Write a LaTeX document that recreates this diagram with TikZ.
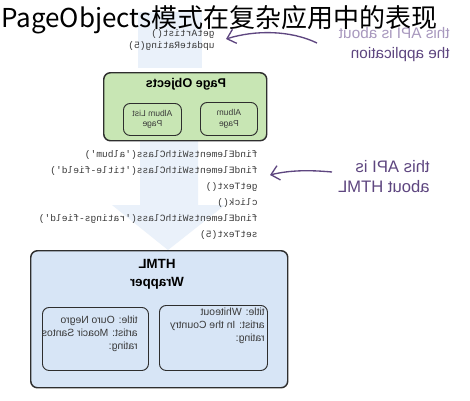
\documentclass[tikz,border=0pt]{standalone}
\usetikzlibrary{arrows.meta}
\usepackage{fontspec}
\setmainfont{Liberation Sans}
\newfontfamily\cjkfont{Noto Sans CJK SC}
\newfontfamily\codefont{Liberation Mono}
\definecolor{gfill}{HTML}{C8E6B4}
\definecolor{bfill}{HTML}{D7E5F6}
\definecolor{pen}{HTML}{2E2E2E}
\definecolor{purp}{HTML}{5E4680}
\definecolor{purpl}{HTML}{A898BE}
\definecolor{haze}{HTML}{EAF1FA}
\definecolor{codec}{HTML}{3A3A3A}
\begin{document}
\begin{tikzpicture}[x=0.75pt,y=-0.75pt,
  outerbox/.style={draw=pen,line width=1.1pt,rounded corners=5pt},
  innerbox/.style={draw=pen,line width=0.7pt,rounded corners=5pt},
  mirr/.style={xscale=-1,inner sep=0pt},
  boxtitle/.style={mirr,font=\fontsize{9.5}{11}\selectfont\bfseries,align=center},
  small/.style={mirr,font=\fontsize{6.4}{7.8}\selectfont,align=center,text=codec},
  code/.style={mirr,font=\codefont\fontsize{7.2}{12}\selectfont,align=left,text=codec},
  hand/.style={mirr,font=\fontsize{11.5}{15}\selectfont,align=left,text=purp},
  note/.style={draw=purp,line width=1pt,-{Straight Barb[length=6pt,width=11pt]}}]
\useasboundingbox (0,0) rectangle (470,400);
\fill[white] (0,0) rectangle (470,400);
% faint background arrow
\fill[haze] (138,12) rectangle (202,68);
\fill[haze] (140,140) -- (198,140) -- (198,205) -- (225,205) -- (168,250) -- (112,205) -- (140,205) -- cycle;
% top code
\node[code,anchor=north west,font=\codefont\fontsize{7.2}{9}\selectfont] (topcode) at (215,29) {getArtist()\\updateRating(5)};
% Page Objects box
\node[outerbox,fill=gfill,minimum width=163*0.75,minimum height=68*0.75,anchor=north west] (po) at (103,72) {};
\node[boxtitle] (potitle) at (186,84) {Page Objects};
\node[innerbox,minimum width=58*0.75,minimum height=32*0.75,anchor=north west] (alp) at (123,103) {};
\node[small] (alpt) at (alp.center) {Album List\\Page};
\node[innerbox,minimum width=57*0.75,minimum height=33*0.75,anchor=north west] (ap) at (200,102) {};
\node[small] (apt) at (ap.center) {Album\\Page};
% middle code
\node[code,anchor=north west] (midcode) at (258,150) {findElementsWithClass('album')\\findElementsWithClass('title-field')\\getText()\\click()\\findElementsWithClass('ratings-field')\\setText(5)};
% HTML wrapper
\node[outerbox,fill=bfill,minimum width=257*0.75,minimum height=137*0.75,anchor=north west] (hw) at (30,250) {};
\node[boxtitle,font=\fontsize{10}{13.5}\selectfont\bfseries] (hwt) at (157,274) {HTML\\Wrapper};
\node[innerbox,minimum width=106*0.75,minimum height=63*0.75,anchor=north west] (b1) at (42,307) {};
\node[small,anchor=north west,align=left,font=\fontsize{7.8}{9.5}\selectfont] (b1t) at (138,316) {title: Ouro Negro\\artist: Moacir Santos\\rating:};
\node[innerbox,minimum width=108*0.75,minimum height=65*0.75,anchor=north west] (b2) at (159,305) {};
\node[small,anchor=north west,align=left,font=\fontsize{7.8}{9.5}\selectfont] (b2t) at (265,308) {title: Whiteout\\artist: In the Country\\rating:};
% handwritten notes
\node[hand,anchor=north west,text=purpl] (n1a) at (450,27) {this API is about};
\node[hand,anchor=north west] (n1b) at (450,47) {the application};
\node[hand,anchor=north west,font=\fontsize{12.5}{15}\selectfont] (n2) at (430,160) {this API is\\about HTML};
\coordinate (a1s) at (317,43);
\coordinate (a1e) at (226,39);
\coordinate (a2s) at (332,172);
\coordinate (a2e) at (270,175);
\draw[note] (a1s) .. controls (290,30) and (255,30) .. (a1e);
\draw[note] (a2s) .. controls (310,170) and (290,170) .. (a2e);
% title
\node[anchor=west,inner sep=0pt,font=\cjkfont\fontsize{19.5}{22}\selectfont,text=black] (title) at (1,20) {PageObjects模式在复杂应用中的表现};
\end{tikzpicture}
\end{document}
